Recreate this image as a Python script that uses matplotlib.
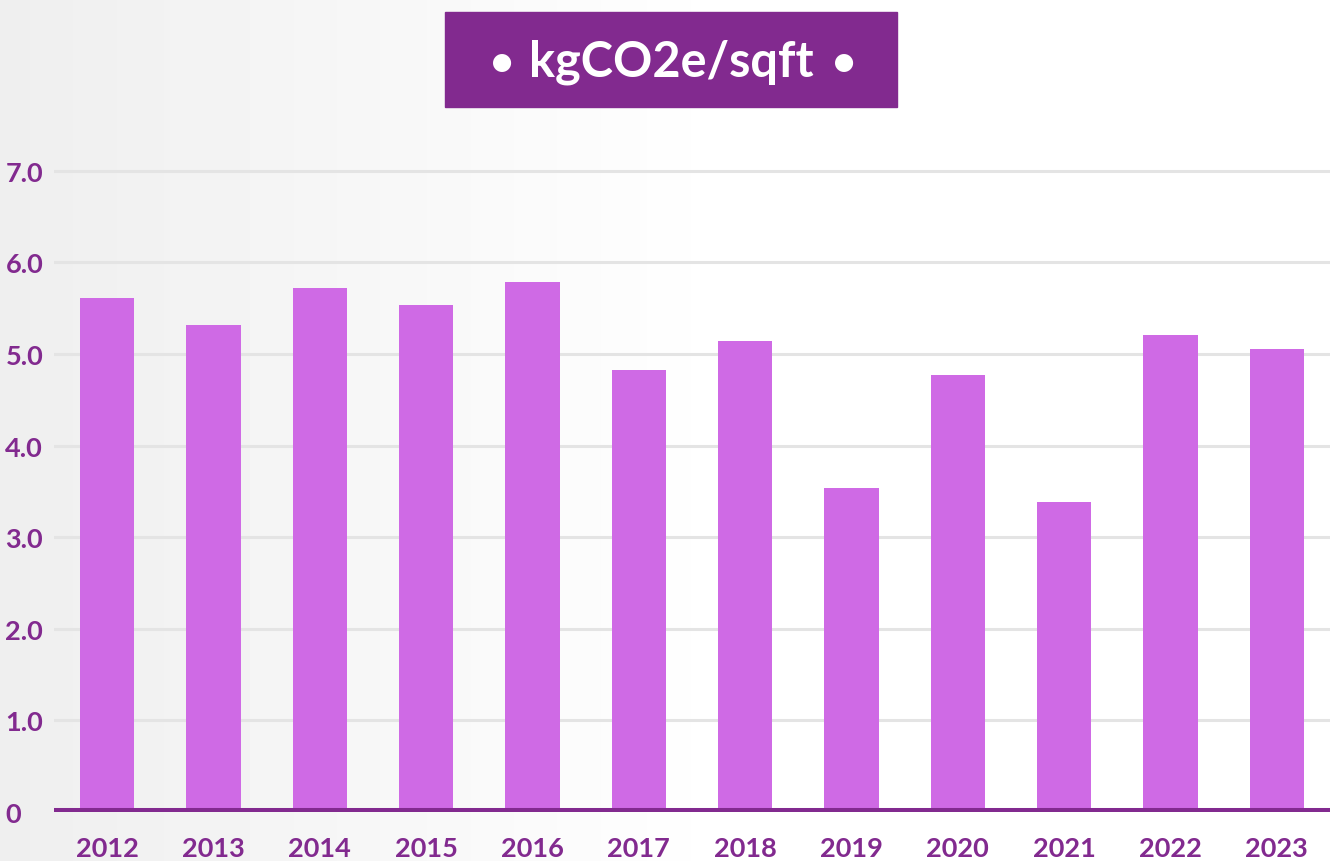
import numpy as np
import matplotlib.pyplot as plt

years = ['2012', '2013', '2014', '2015', '2016', '2017',
         '2018', '2019', '2020', '2021', '2022', '2023']
values = [5.61, 5.32, 5.72, 5.54, 5.79, 4.82, 5.14, 3.54, 4.77, 3.38, 5.21, 5.06]
yticks = [0, 1, 2, 3, 4, 5, 6, 7]
ytick_labels = ['0', '1.0', '2.0', '3.0', '4.0', '5.0', '6.0', '7.0']
title = 'kgCO2e/sqft'

purple = '#822A8F'
bar_color = '#CF6AE5'
font = ['Lato', 'DejaVu Sans']

W, H = 1335, 862
fig = plt.figure(figsize=(W / 100, H / 100), dpi=100)

# background gradient: light grey on the left fading to white
bg = fig.add_axes([0, 0, 1, 1])
grad = np.linspace(0, 1, 400)
grad = np.clip(grad / 0.55, 0, 1)
shade = 0.935 + (1 - 0.935) * grad
bg.imshow(np.tile(shade, (10, 1)), cmap='gray', vmin=0, vmax=1,
          aspect='auto', extent=[0, 1, 0, 1])
bg.set_axis_off()

# main axes in pixel coords
left, right = 54, 1330
bottom_px = H - 813
ymax = 7.4
px_per_unit = (813 - 355) / 5
top_px = bottom_px + ymax * px_per_unit
ax = fig.add_axes([left / W, bottom_px / H, (right - left) / W, (top_px - bottom_px) / H])
ax.patch.set_alpha(0)

x = np.arange(len(years))
ax.bar(x, values, width=0.51, color=bar_color, zorder=2)
ax.set_xlim(-0.5, len(years) - 0.5)
ax.set_ylim(0, ymax)

for t in yticks[1:]:
    ax.axhline(t, color='#E4E4E4', lw=2.2, zorder=1)
ax.axhline(0, color=purple, lw=6.5, zorder=3)

for s in ax.spines.values():
    s.set_visible(False)
ax.tick_params(length=0)
ax.set_xticks(x)
ax.set_xticklabels(years, color=purple, fontsize=19.5, fontweight='bold', family=font)
ax.tick_params(axis='x', pad=17)
ax.set_yticks(yticks)
ax.set_yticklabels(ytick_labels, color=purple, fontsize=19.5, fontweight='bold', family=font)
for lbl in ax.get_yticklabels():
    lbl.set_horizontalalignment('left')
ax.tick_params(axis='y', pad=35)

# title box
fig.patches.append(plt.Rectangle((445 / W, 1 - 108 / H), (897 - 445) / W, (108 - 13) / H,
                                 transform=fig.transFigure, color=purple, zorder=5))
fig.text(671 / W, 1 - 62 / H, title, color='white', fontsize=35, fontweight='bold',
         family=font, ha='center', va='center', zorder=6)
for bx in (502, 844):
    fig.text(bx / W, 1 - 64 / H, '\u2022', color='white', fontsize=30, fontweight='bold',
             family=font, ha='center', va='center', zorder=6)

fig.savefig('out.png', dpi=100)
